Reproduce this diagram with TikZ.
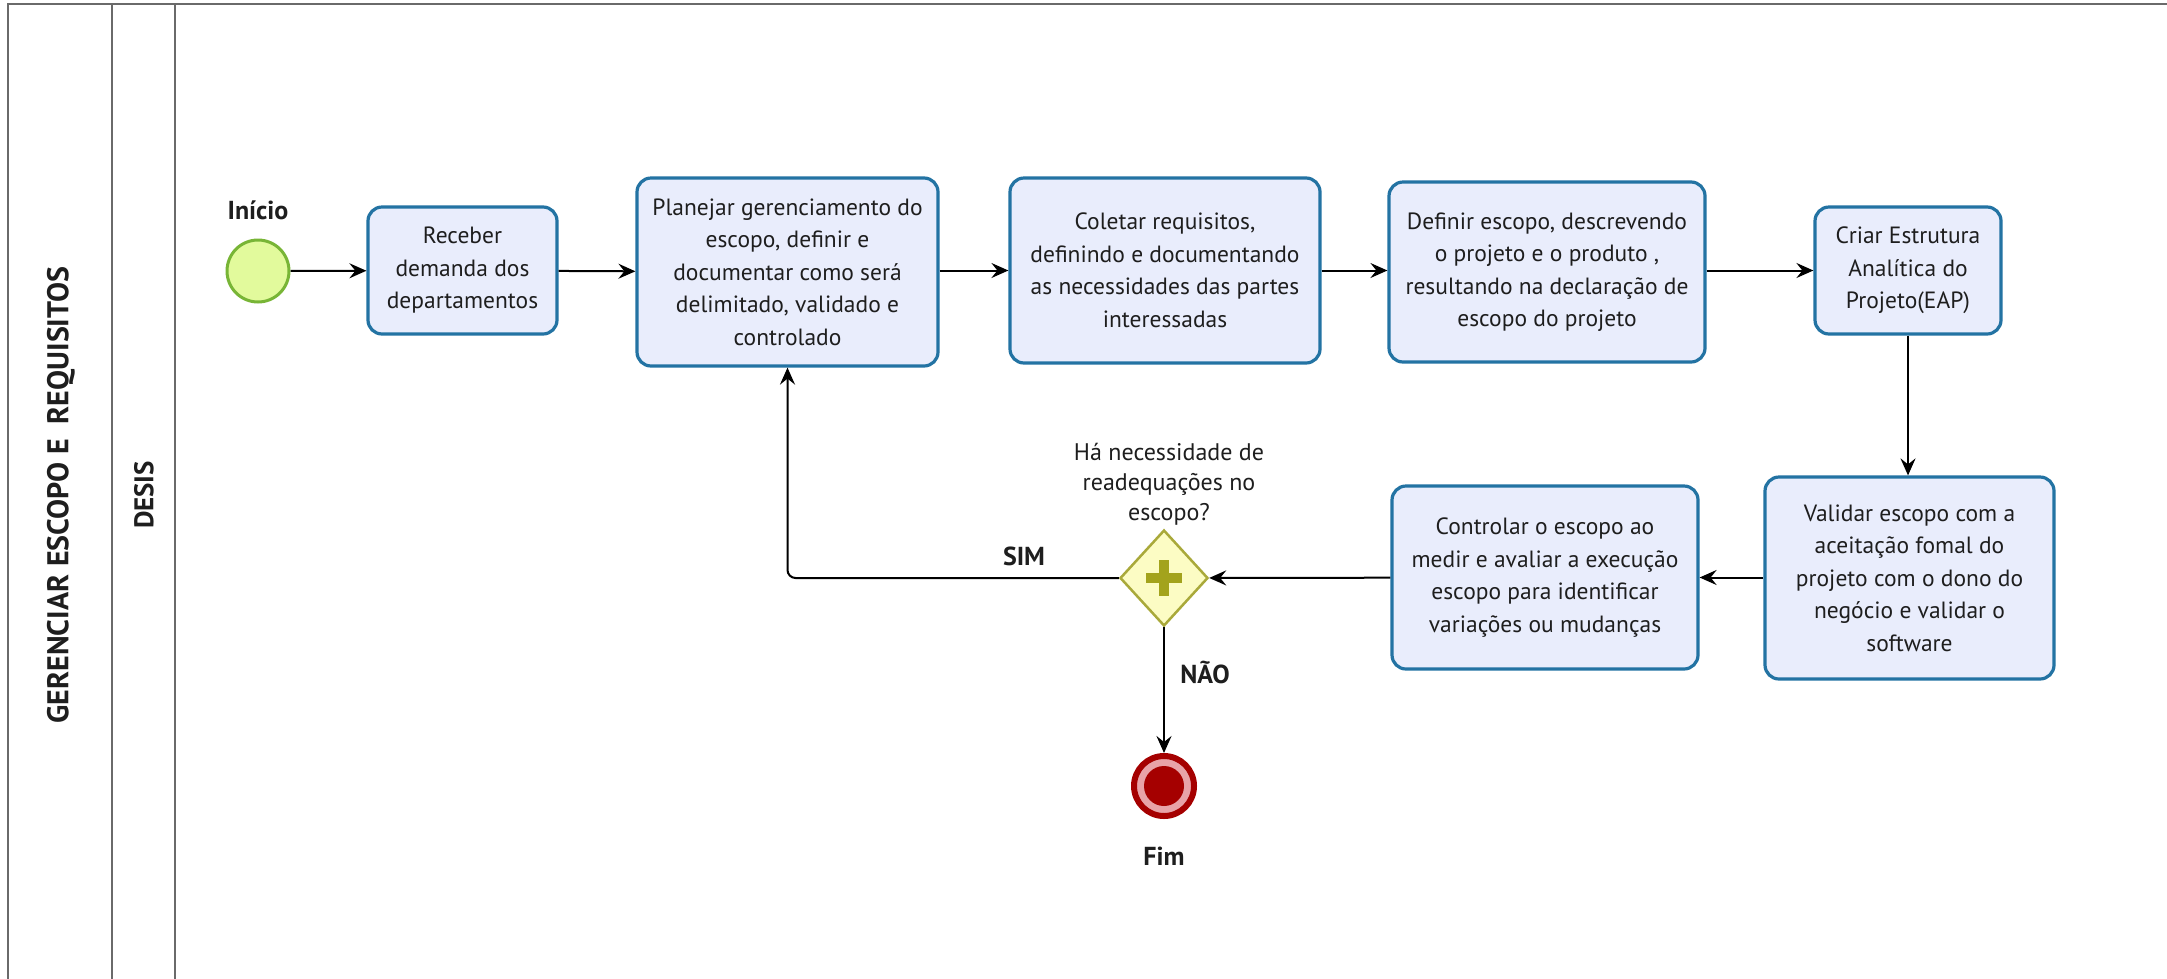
\documentclass[tikz,border=0pt]{standalone}
\usepackage{fontspec}
\setmainfont{PT Sans}
\newfontfamily\condfont[FakeStretch=1.0]{PT Sans}
\usetikzlibrary{shapes.geometric,arrows.meta,calc}
\definecolor{boxfill}{HTML}{E9EDFC}
\definecolor{boxline}{HTML}{2373A3}
\definecolor{startfill}{HTML}{E2FA9C}
\definecolor{startline}{HTML}{78B536}
\definecolor{gwfill}{HTML}{FCFCC4}
\definecolor{gwline}{HTML}{A9A93A}
\definecolor{plusc}{HTML}{A3A31C}
\definecolor{endred}{HTML}{A50000}
\definecolor{endpink}{HTML}{E8A3A8}
\definecolor{lanegray}{HTML}{6A6A6A}
\definecolor{txt}{HTML}{1E1E1E}
\tikzset{
  taskbox/.style={draw=boxline, line width=3.2pt, fill=boxfill, rounded corners=14pt,
    align=center, font=\fontsize{23.5}{32.5}\selectfont, text=txt, inner sep=2pt},
  flow/.style={draw=black, line width=2pt, -{Stealth[length=17pt,width=15pt,inset=6pt]}},
  lbl/.style={font=\fontsize{26}{28}\selectfont\bfseries, text=txt},
  lane/.style={draw=lanegray, line width=2.2pt}
}
\begin{document}
\begin{tikzpicture}[x=1pt,y=-1pt]
\useasboundingbox (0,0) rectangle (2167,978);
\fill[white] (0,0) rectangle (2167,978);
% pool and lane
\draw[lane] (8,990) -- (8,4) -- (2180,4);
\draw[lane] (112,4) -- (112,990);
\draw[lane] (175,4) -- (175,990);
\node[rotate=90, font=\condfont\bfseries\fontsize{30}{30}\selectfont, text=txt] (pool) at (61,495) {GERENCIAR ESCOPO E\ \ REQUISITOS};
\node[rotate=90, font=\condfont\bfseries\fontsize{27}{27}\selectfont, text=txt] (lanename) at (144,495) {DESIS};
% events
\node[circle, draw=startline, line width=3pt, fill=startfill, minimum size=62pt, inner sep=0pt] (start) at (258,271) {};
\node[lbl] (startl) at (258,210) {Início};
\node[circle, draw=endred, line width=6pt, fill=endpink, minimum size=60pt, inner sep=0pt] (end) at (1164,786) {};
\fill[endred] (end.center) circle (20pt);
\node[lbl] (endl) at (1164,856) {Fim};
% tasks
\node[taskbox, minimum width=189pt, minimum height=127pt] (t1) at (462.5,270.5) {Receber\\demanda dos\\departamentos};
\node[taskbox, minimum width=301pt, minimum height=188pt] (t2) at (787.5,272) {Planejar gerenciamento do\\escopo, definir e\\documentar como será\\delimitado, validado e\\controlado};
\node[taskbox, minimum width=310pt, minimum height=185pt] (t3) at (1165,270.5) {Coletar requisitos,\\definindo e documentando\\as necessidades das partes\\interessadas};
\node[taskbox, minimum width=316pt, minimum height=180pt] (t4) at (1547,272) {Definir escopo, descrevendo\\o projeto e o produto ,\\resultando na declaração de\\escopo do projeto};
\node[taskbox, minimum width=186pt, minimum height=127pt] (t5) at (1908,270.5) {Criar Estrutura\\Analítica do\\Projeto(EAP)};
\node[taskbox, minimum width=289pt, minimum height=202pt] (t6) at (1909.5,578) {Validar escopo com a\\aceitação fomal do\\projeto com o dono do\\negócio e validar o\\software};
\node[taskbox, minimum width=306pt, minimum height=183pt] (t7) at (1545,577.5) {Controlar o escopo ao\\medir e avaliar a execução\\escopo para identificar\\variações ou mudanças};
% gateway
\node[diamond, draw=gwline, line width=2.5pt, fill=gwfill, minimum width=88pt, minimum height=96pt, inner sep=0pt, aspect=0.92] (gw) at (1164,578) {};
\fill[plusc] ($(gw.center)+(-18,-5)$) rectangle ($(gw.center)+(18,5)$);
\fill[plusc] ($(gw.center)+(-5,-18)$) rectangle ($(gw.center)+(5,18)$);
\node[align=center, font=\fontsize{24}{30}\selectfont, text=txt] (gwl) at (1169,484) {Há necessidade de\\readequações no\\escopo?};
% flows
\draw[flow] (start) -- (t1);
\draw[flow] (t1) -- (t2);
\draw[flow] (t2.east |- t3.west) -- (t3);
\draw[flow] (t3) -- (t4.west |- t3.west);
\draw[flow] (t4.east |- t5.west) -- (t5);
\draw[flow] (t5) -- (t6.north -| t5.south);
\draw[flow] (t6.west |- t7.east) -- (t7);
\draw[flow] (t7) -- (gw);
\draw[flow, rounded corners=8pt] (gw.west) -| (t2.south);
\draw[flow] (gw) -- (end);
\node[lbl] (sim) at (1024,556) {SIM};
\node[lbl] (nao) at (1205,672) {NÃO};
\end{tikzpicture}
\end{document}
